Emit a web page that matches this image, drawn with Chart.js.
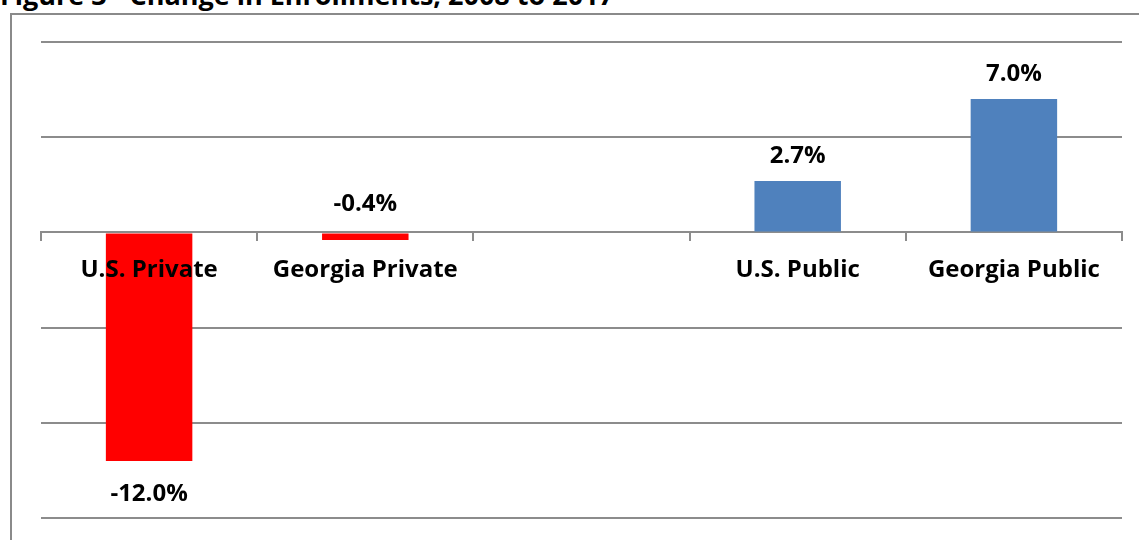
<!DOCTYPE html>
<html>
<head>
<meta charset="utf-8">
<script src="https://cdn.jsdelivr.net/npm/chart.js@4"></script>
<style>
  html, body { margin: 0; padding: 0; background: #fff; overflow: hidden; }
  body { width: 1139px; height: 540px; position: relative; }
  #title { position: absolute; left: 0; top: -24px; font: bold 27px "Open Sans", sans-serif; color: #000; white-space: nowrap; }
  #frame { position: absolute; left: 10px; top: 13px; width: 1200px; height: 600px;
           border-left: 2px solid #8a8a8a; border-top: 2px solid #8a8a8a; }
  #wrap { position: absolute; left: 0; top: 0; width: 1139px; height: 540px; }
</style>
</head>
<body>
<div id="title">Figure 3 - Change in Enrollments, 2008 to 2017</div>
<div id="frame"></div>
<div id="wrap"><canvas id="barChart"></canvas></div>
<script>
// categories, the middle one is an empty gap like in the original sheet
let categories = ['U.S. Private', 'Georgia Private', '', 'U.S. Public', 'Georgia Public'];
let changeValues = [-12.0, -0.4, null, 2.7, 7.0];
let barColors = ['#ff0000', '#ff0000', '#ffffff', '#4f81bd', '#4f81bd'];
let yTicks = [-15, -10, -5, 0, 5, 10];

const labelFont = 'bold 24px "Open Sans", sans-serif';
const gridGray = '#8c8c8c';

// draws the % labels at the end of each bar
const valueLabels = {
    id: 'valueLabels',
    afterDatasetsDraw(chart) {
        const ctx = chart.ctx;
        const meta = chart.getDatasetMeta(0);
        const base = chart.scales.y.getPixelForValue(0);
        ctx.save();
        ctx.font = labelFont;
        ctx.fillStyle = '#000';
        ctx.textAlign = 'center';
        ctx.textBaseline = 'middle';
        meta.data.forEach(function (bar, i) {
            let v = changeValues[i];
            if (v === null) return;
            let txt = v.toFixed(1) + '%';
            let y;
            if (v >= 0) {
                y = bar.y - 25;
            } else if (v > -1) {
                y = base - 28;
            } else {
                y = bar.y + 33;
            }
            ctx.fillText(txt, bar.x, y);
        });
        ctx.restore();
    }
};

const ctx = document.getElementById('barChart').getContext('2d');
const chartInst = new Chart(ctx, {
    type: 'bar',
    data: {
        labels: categories,
        datasets: [{
            data: changeValues,
            backgroundColor: barColors,
            borderWidth: 0,
            barPercentage: 0.4,
            categoryPercentage: 1.0
        }]
    },
    options: {
        responsive: true,
        maintainAspectRatio: false,
        animation: false,
        layout: { padding: { left: 41, right: 17, top: 42, bottom: 22 } },
        plugins: {
            legend: { display: false },
            tooltip: { enabled: false },
            title: { display: false }
        },
        scales: {
            x: {
                position: { y: 0 },
                afterFit: function (scale) { scale.height = 0; },
                grid: {
                    offset: true,
                    drawOnChartArea: false,
                    drawTicks: true,
                    tickLength: 8,
                    color: gridGray,
                    lineWidth: 2
                },
                border: { display: true, color: gridGray, width: 2 },
                ticks: {
                    z: 1,
                    color: '#000',
                    font: { family: '"Open Sans", sans-serif', size: 24, weight: 'bold' },
                    padding: 15,
                    maxRotation: 0,
                    autoSkip: false
                }
            },
            y: {
                min: -15,
                max: 10,
                afterFit: function (scale) { scale.width = 0; },
                afterBuildTicks: function (scale) {
                    scale.ticks = yTicks.map(v => ({ value: v }));
                },
                grid: { color: gridGray, lineWidth: 2, drawTicks: false },
                border: { display: false },
                ticks: { display: false }
            }
        }
    },
    plugins: [valueLabels]
});
</script>
</body>
</html>
